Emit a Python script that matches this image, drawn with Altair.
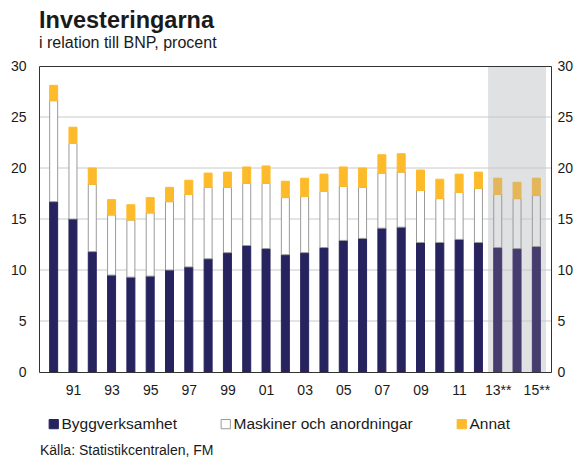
import altair as alt
import pandas as pd

years = [1990, 1991, 1992, 1993, 1994, 1995, 1996, 1997, 1998, 1999, 2000, 2001, 2002,
         2003, 2004, 2005, 2006, 2007, 2008, 2009, 2010, 2011, 2012, 2013, 2014, 2015]
bygg = [16.7, 15.0, 11.8, 9.5, 9.3, 9.4, 10.0, 10.3, 11.1, 11.7, 12.4, 12.1, 11.5,
        11.7, 12.2, 12.9, 13.1, 14.1, 14.2, 12.7, 12.7, 13.0, 12.7, 12.2, 12.1, 12.3]
maskiner = [9.9, 7.4, 6.6, 5.9, 5.6, 6.2, 6.7, 7.1, 7.0, 6.4, 6.1, 6.4, 5.6,
            5.5, 5.5, 5.3, 5.0, 5.4, 5.4, 5.1, 4.3, 4.6, 5.3, 5.2, 4.9, 5.0]
annat = [1.5, 1.6, 1.6, 1.5, 1.5, 1.5, 1.4, 1.4, 1.4, 1.5, 1.6, 1.7, 1.6,
         1.8, 1.7, 1.9, 1.9, 1.8, 1.8, 2.0, 1.9, 1.8, 1.6, 1.6, 1.6, 1.7]
forecast_years = [2013, 2014, 2015]
series_names = ["Byggverksamhet", "Maskiner och anordningar", "Annat"]
tick_years = [1991, 1993, 1995, 1997, 1999, 2001, 2003, 2005, 2007, 2009, 2011, 2013, 2015]
tick_labels = ["91", "93", "95", "97", "99", "01", "03", "05", "07", "09", "11", "13**", "15**"]
y_ticks = [0, 5, 10, 15, 20, 25, 30]
grid_vals = [5, 10, 15, 20, 25]
shade_span = [2012.5, 2015.5]
title = "Investeringarna"
subtitle = "i relation till BNP, procent"
source = "Källa: Statistikcentralen, FM"

FONT = "Liberation Sans"
TXT = "#1a1a1a"
FRAME = "#333333"

rows = []
for i, y in enumerate(years):
    for k, (name, vals) in enumerate(zip(series_names, [bygg, maskiner, annat])):
        key = name + (" prognos" if y in forecast_years else "")
        rows.append({"year": y, "serie": name, "key": key, "value": vals[i], "ord": k})
df = pd.DataFrame(rows)

keys = series_names + [s + " prognos" for s in series_names]
fill_range = ["#27235F", "#FFFFFF", "#FDBB2B", "#463C6E", "#E0E1E3", "#E3B65A"]
stroke_range = ["#27235F", "#9A9A9A", "#FDBB2B", "#463C6E", "#9A9A9A", "#E3B65A"]

label_expr = "[" + ",".join("'%s'" % t for t in tick_labels) + "][indexof([" + \
    ",".join(str(t) for t in tick_years) + "], datum.value)]"

xscale = alt.Scale(domain=[1989.5, 2015.5], nice=False, zero=False)
yscale = alt.Scale(domain=[0, 30], nice=False)

legend = alt.Legend(
    title=None, orient="none", legendX=7, legendY=350, direction="horizontal",
    values=series_names, symbolType="square", symbolSize=85, symbolStrokeWidth=1,
    labelFont=FONT, labelFontSize=15.5, labelColor=TXT, labelOffset=0,
    columnPadding=41, labelLimit=300,
)

shade_df = pd.DataFrame({"x": [shade_span[0]], "x2": [shade_span[1]]})
shade = alt.Chart(shade_df).mark_rect(color="#E0E1E3").encode(
    x=alt.X("x:Q", scale=xscale,
            axis=alt.Axis(values=tick_years, labelExpr=label_expr, ticks=False, domain=True,
                          domainColor=FRAME, domainWidth=1, zindex=1,
                          grid=False, labelFont=FONT, labelFontSize=14, labelColor=TXT,
                          labelPadding=11, title=None)),
    x2="x2:Q",
    y=alt.value(0),
    y2=alt.value(306),
)

grid = alt.Chart(pd.DataFrame({"g": grid_vals})).mark_rule(color="#C8C8C8", strokeWidth=1).encode(
    y=alt.Y("g:Q", scale=yscale,
            axis=alt.Axis(values=y_ticks, ticks=False, domain=True, domainColor=FRAME,
                          domainWidth=1, zindex=1, grid=False, title=None,
                          labelFont=FONT, labelFontSize=14, labelColor=TXT,
                          labelPadding=13, orient="left")),
)

src = alt.Chart(pd.DataFrame({"t": [source]})).mark_text(
    font=FONT, fontSize=14, color=TXT, align="left", baseline="alphabetic"
).encode(text="t:N", x=alt.value(1), y=alt.value(389))

bars = alt.Chart(df).mark_bar(size=8, strokeWidth=1).encode(
    x=alt.X("year:Q", scale=xscale,
            axis=alt.Axis(orient="top", labels=False, ticks=False, domain=True,
                          domainColor=FRAME, domainWidth=1, zindex=1, grid=False, title=None)),
    y=alt.Y("sum(value):Q", scale=yscale, stack="zero",
            axis=alt.Axis(values=y_ticks, ticks=False, domain=True, domainColor=FRAME,
                          domainWidth=1, zindex=1, grid=False, title=None,
                          labelFont=FONT, labelFontSize=14, labelColor=TXT,
                          labelPadding=6, orient="right")),
    fill=alt.Fill("key:N", scale=alt.Scale(domain=keys, range=fill_range), legend=legend),
    stroke=alt.Stroke("key:N", scale=alt.Scale(domain=keys, range=stroke_range), legend=legend),
    order=alt.Order("ord:Q", sort="ascending"),
)

chart = alt.layer(shade, grid, bars, src).resolve_axis(
    x="independent", y="independent"
).properties(
    width=512, height=306,
    autosize=alt.AutoSizeParams(type="none"),
    padding={"left": 31, "top": 58, "right": 23, "bottom": 86},
    title=alt.TitleParams(title, subtitle=subtitle, anchor="start", frame="group",
                          font=FONT, fontSize=23.5, fontWeight="bold", color=TXT,
                          subtitleFont=FONT, subtitleFontSize=16, subtitleColor=TXT,
                          offset=8, subtitlePadding=3),
).configure_view(strokeWidth=0)

chart.save("out.html", embed_options={"renderer": "svg", "actions": False})
